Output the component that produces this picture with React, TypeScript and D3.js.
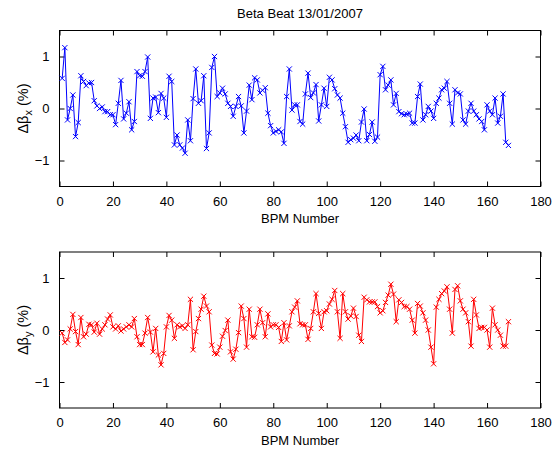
import * as d3 from 'd3';
import { useEffect, useRef } from 'react';

// BPM index 1..168
const bpm = d3.range(1, 169);

const betaX = [
  0.58, 1.17, -0.22, 0.0, 0.26, -0.54, -0.27, 0.63, 0.52, 0.44,
  0.49, 0.5, 0.15, 0.05, 0.0, 0.03, -0.06, -0.06, -0.12, -0.12,
  -0.31, 0.1, 0.54, -0.2, -0.09, 0.13, -0.41, -0.25, 0.71, 0.63,
  0.62, 0.71, 0.99, -0.19, 0.2, 0.22, -0.08, 0.29, 0.2, -0.17,
  0.62, 0.52, -0.7, -0.51, -0.7, -0.76, -0.86, -0.22, -0.62, 0.19,
  0.76, 0.1, 0.15, 0.63, -0.77, -0.47, 0.79, 1.0, 0.23, 0.3,
  0.39, 0.28, 0.1, 0.04, -0.15, 0.04, 0.23, 0.05, -0.47, -0.05,
  0.45, 0.17, 0.59, 0.55, 0.3, 0.35, 0.4, -0.09, -0.33, -0.47,
  -0.44, -0.41, -0.45, -0.67, 0.23, 0.76, -0.03, 0.07, 0.07, -0.25,
  -0.3, 0.28, 0.68, 0.21, 0.3, 0.46, -0.24, 0.07, 0.39, 0.04,
  0.6, 0.55, 0.38, 0.26, 0.2, -0.09, -0.35, -0.65, -0.6, -0.57,
  -0.51, -0.62, -0.26, -0.01, -0.62, -0.5, -0.26, -0.63, -0.55, 0.65,
  0.81, 0.36, 0.45, 0.55, 0.07, 0.29, -0.06, -0.1, -0.12, -0.11,
  -0.09, -0.28, -0.28, 0.23, 0.47, -0.22, -0.12, 0.04, -0.05, -0.19,
  0.1, 0.2, 0.36, 0.39, 0.52, 0.1, -0.3, 0.36, 0.3, 0.28,
  -0.22, -0.3, -0.05, 0.1, -0.05, -0.12, -0.2, -0.25, -0.41, 0.07,
  -0.05, -0.12, 0.2, -0.28, -0.15, 0.28, -0.65, -0.71,
];

const betaY = [
  -0.06, -0.24, -0.19, 0.02, 0.3, -0.03, -0.28, 0.24, -0.13, -0.08,
  0.11, 0.1, -0.04, 0.13, -0.08, 0.02, 0.1, 0.21, 0.29, 0.06,
  0.02, 0.08, -0.02, 0.02, 0.06, 0.1, 0.06, 0.22, -0.13, -0.28,
  -0.28, -0.06, 0.24, -0.04, -0.42, 0.03, -0.48, -0.67, -0.45, 0.06,
  0.28, 0.19, -0.16, 0.1, 0.06, 0.08, 0.03, 0.1, 0.59, -0.38,
  -0.03, 0.22, 0.4, 0.65, 0.46, 0.35, -0.29, -0.45, -0.46, -0.33,
  -0.12, -0.01, 0.19, -0.42, -0.56, -0.37, -0.05, 0.46, 0.22, -0.33,
  0.4, -0.13, -0.14, 0.1, 0.4, 0.14, -0.13, 0.31, 0.06, 0.1,
  0.1, 0.05, -0.22, 0.14, -0.19, 0.08, 0.35, 0.44, 0.56, 0.12,
  0.1, 0.1, -0.18, 0.03, 0.35, 0.7, 0.32, 0.03, 0.35, 0.37,
  0.5, 0.59, 0.76, 0.35, -0.16, 0.7, 0.35, 0.21, 0.27, 0.42,
  0.26, -0.1, -0.22, 0.63, 0.58, 0.54, 0.54, 0.54, 0.45, 0.33,
  0.37, 0.53, 0.67, 0.88, 0.69, 0.16, 0.58, 0.53, 0.45, 0.45,
  0.4, 0.19, -0.06, 0.51, 0.46, 0.33, 0.19, 0.0, -0.33, -0.65,
  0.44, 0.59, 0.7, 0.75, 0.83, 0.4, -0.06, 0.78, 0.85, 0.56,
  0.4, 0.33, 0.16, -0.31, 0.59, 0.29, 0.03, 0.05, 0.05, 0.0,
  -0.33, 0.42, 0.1, 0.0, -0.1, -0.31, -0.31, 0.16,
];

const xTicks = [0, 20, 40, 60, 80, 100, 120, 140, 160, 180];
const yTicks = [-1, 0, 1];

const W = 558;
const H = 449;
const FONT = '"Liberation Sans", Arial, sans-serif';

function App() {
  const ref = useRef<SVGSVGElement>(null);

  useEffect(() => {
    const svg = d3.select(ref.current);
    svg.selectAll('*').remove();

    const panels = [
      { top: 30.5, bottom: 186.5, values: betaX, color: '#0000ff', sub: 'x' },
      { top: 252, bottom: 408, values: betaY, color: '#ff0000', sub: 'y' },
    ];
    const left = 59.5;
    const right = 540.5;

    svg.append('text')
      .attr('x', (left + right) / 2)
      .attr('y', 18)
      .attr('text-anchor', 'middle')
      .attr('font-family', FONT)
      .attr('font-size', 13)
      .text('Beta Beat 13/01/2007');

    panels.forEach((p) => {
      const x = d3.scaleLinear().domain([0, 180]).range([left, right]);
      const y = d3.scaleLinear().domain([-1.5, 1.5]).range([p.bottom, p.top]);
      const g = svg.append('g');

      // box
      g.append('rect')
        .attr('x', left)
        .attr('y', p.top)
        .attr('width', right - left)
        .attr('height', p.bottom - p.top)
        .attr('fill', 'white')
        .attr('stroke', 'black')
        .attr('stroke-width', 1);

      const styleAxis = (sel) => {
        sel.select('.domain').remove();
        sel.selectAll('line').attr('stroke', 'black');
        sel.selectAll('text')
          .attr('font-family', FONT)
          .attr('font-size', 13)
          .attr('fill', 'black');
      };

      // inward ticks, MATLAB style
      g.append('g')
        .attr('transform', `translate(0,${p.bottom})`)
        .call(d3.axisBottom(x).tickValues(xTicks).tickSizeInner(-5).tickPadding(10).tickFormat(d3.format('d')))
        .call(styleAxis);
      g.append('g')
        .attr('transform', `translate(0,${p.top})`)
        .call(d3.axisTop(x).tickValues(xTicks).tickSizeInner(-5).tickFormat(() => ''))
        .call(styleAxis);
      g.append('g')
        .attr('transform', `translate(${left},0)`)
        .call(d3.axisLeft(y).tickValues(yTicks).tickSizeInner(-5).tickPadding(10).tickFormat(d3.format('d')))
        .call(styleAxis);
      g.append('g')
        .attr('transform', `translate(${right},0)`)
        .call(d3.axisRight(y).tickValues(yTicks).tickSizeInner(-5).tickFormat(() => ''))
        .call(styleAxis);

      const line = d3.line<number>()
        .x((d, i) => x(bpm[i]))
        .y((d) => y(d));

      g.append('path')
        .datum(p.values)
        .attr('d', line)
        .attr('fill', 'none')
        .attr('stroke', p.color)
        .attr('stroke-width', 1);

      const m = 2.6;
      g.append('g')
        .selectAll('path')
        .data(p.values)
        .enter()
        .append('path')
        .attr('d', (d, i) => {
          const cx = x(bpm[i]);
          const cy = y(d);
          return `M${cx - m},${cy - m}L${cx + m},${cy + m}M${cx - m},${cy + m}L${cx + m},${cy - m}`;
        })
        .attr('stroke', p.color)
        .attr('stroke-width', 1)
        .attr('fill', 'none');

      // x label
      g.append('text')
        .attr('x', (left + right) / 2)
        .attr('y', p.bottom + 36.5)
        .attr('text-anchor', 'middle')
        .attr('font-family', FONT)
        .attr('font-size', 13)
        .text('BPM Number');

      // y label
      const yl = g.append('text')
        .attr('transform', `translate(28,${(p.top + p.bottom) / 2}) rotate(-90)`)
        .attr('text-anchor', 'middle')
        .attr('font-family', FONT)
        .attr('font-size', 14.5);
      yl.append('tspan').text('\u0394\u03b2');
      yl.append('tspan').attr('font-size', 11).attr('dy', 4).text(p.sub);
      yl.append('tspan').attr('dy', -4).text(' (%)');
    });
  }, []);

  return (
    <svg
      ref={ref}
      width={W}
      height={H}
      style={{ position: 'absolute', left: 0, top: 0, background: 'white' }}
    />
  );
}

export default App;
